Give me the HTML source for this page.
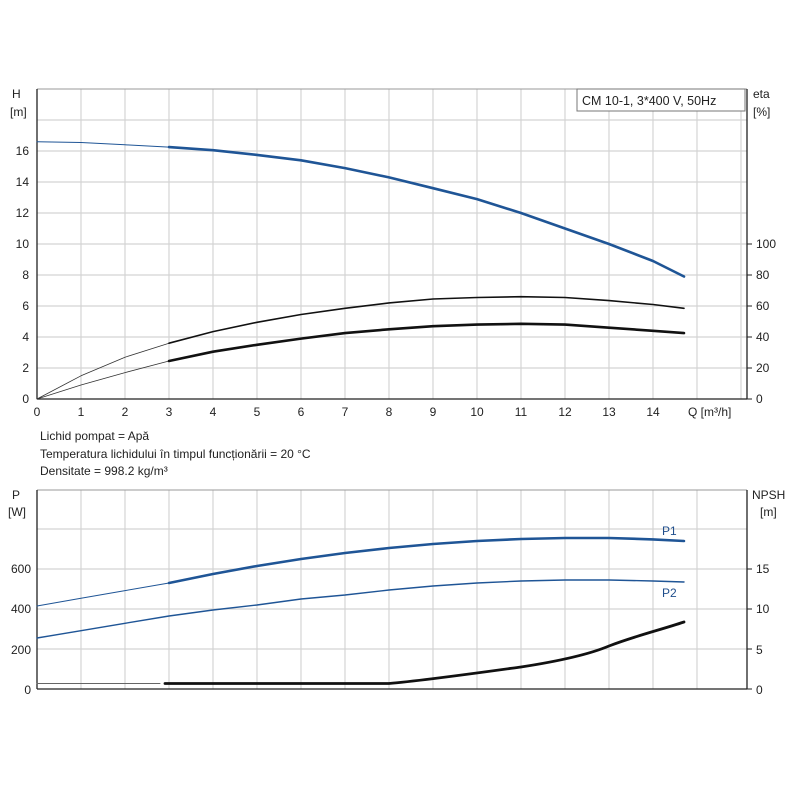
<!DOCTYPE html>
<html><head><meta charset="utf-8"><style>
html,body{margin:0;padding:0;background:#fff;}
svg{display:block;font-family:"Liberation Sans",sans-serif;}
</style></head><body>
<svg width="800" height="800" viewBox="0 0 800 800">
<g stroke="#d4d4d4" stroke-width="1.2">
<line x1="81" y1="89" x2="81" y2="399"/><line x1="125" y1="89" x2="125" y2="399"/><line x1="169" y1="89" x2="169" y2="399"/><line x1="213" y1="89" x2="213" y2="399"/><line x1="257" y1="89" x2="257" y2="399"/><line x1="301" y1="89" x2="301" y2="399"/><line x1="345" y1="89" x2="345" y2="399"/><line x1="389" y1="89" x2="389" y2="399"/><line x1="433" y1="89" x2="433" y2="399"/><line x1="477" y1="89" x2="477" y2="399"/><line x1="521" y1="89" x2="521" y2="399"/><line x1="565" y1="89" x2="565" y2="399"/><line x1="609" y1="89" x2="609" y2="399"/><line x1="653" y1="89" x2="653" y2="399"/><line x1="697" y1="89" x2="697" y2="399"/><line x1="741" y1="89" x2="741" y2="399"/>
<line x1="37" y1="120" x2="747" y2="120"/><line x1="37" y1="151" x2="747" y2="151"/><line x1="37" y1="182" x2="747" y2="182"/><line x1="37" y1="213" x2="747" y2="213"/><line x1="37" y1="244" x2="747" y2="244"/><line x1="37" y1="275" x2="747" y2="275"/><line x1="37" y1="306" x2="747" y2="306"/><line x1="37" y1="337" x2="747" y2="337"/><line x1="37" y1="368" x2="747" y2="368"/>
<line x1="81" y1="490" x2="81" y2="689"/><line x1="125" y1="490" x2="125" y2="689"/><line x1="169" y1="490" x2="169" y2="689"/><line x1="213" y1="490" x2="213" y2="689"/><line x1="257" y1="490" x2="257" y2="689"/><line x1="301" y1="490" x2="301" y2="689"/><line x1="345" y1="490" x2="345" y2="689"/><line x1="389" y1="490" x2="389" y2="689"/><line x1="433" y1="490" x2="433" y2="689"/><line x1="477" y1="490" x2="477" y2="689"/><line x1="521" y1="490" x2="521" y2="689"/><line x1="565" y1="490" x2="565" y2="689"/><line x1="609" y1="490" x2="609" y2="689"/><line x1="653" y1="490" x2="653" y2="689"/><line x1="697" y1="490" x2="697" y2="689"/>
<line x1="37" y1="529" x2="747" y2="529"/><line x1="37" y1="569" x2="747" y2="569"/><line x1="37" y1="609" x2="747" y2="609"/><line x1="37" y1="649" x2="747" y2="649"/>
</g>
<g stroke="#999" stroke-width="1" fill="none"><line x1="37" y1="89" x2="747" y2="89"/><line x1="37" y1="490" x2="747" y2="490"/></g>
<g stroke="#222" stroke-width="1.3" fill="none">
<line x1="37" y1="89" x2="37" y2="399"/><line x1="747" y1="89" x2="747" y2="399"/><line x1="37" y1="399" x2="747" y2="399"/>
<line x1="37" y1="490" x2="37" y2="689"/><line x1="747" y1="490" x2="747" y2="689"/><line x1="37" y1="689" x2="747" y2="689"/>
</g>
<g stroke="#222" stroke-width="1">
<line x1="747" y1="244" x2="752" y2="244"/><line x1="747" y1="275" x2="752" y2="275"/><line x1="747" y1="306" x2="752" y2="306"/><line x1="747" y1="337" x2="752" y2="337"/><line x1="747" y1="368" x2="752" y2="368"/><line x1="747" y1="399" x2="752" y2="399"/>
<line x1="747" y1="569" x2="752" y2="569"/><line x1="747" y1="609" x2="752" y2="609"/><line x1="747" y1="649" x2="752" y2="649"/><line x1="747" y1="689" x2="752" y2="689"/>
</g>
<rect x="577" y="89" width="168" height="22" fill="#fff" stroke="#777"/>
<text x="582" y="105" font-size="12.5" fill="#222">CM 10-1, 3*400 V, 50Hz</text>
<g font-size="12" fill="#222">
<text x="12" y="98">H</text><text x="10" y="116">[m]</text>
<text x="753" y="98">eta</text><text x="753" y="116">[%]</text>
<text x="12" y="499">P</text><text x="8" y="516">[W]</text>
<text x="752" y="499">NPSH</text><text x="760" y="516">[m]</text>
</g>
<g font-size="12" fill="#222" text-anchor="end">
<text x="29" y="155">16</text><text x="29" y="186">14</text><text x="29" y="217">12</text><text x="29" y="248">10</text><text x="29" y="279">8</text><text x="29" y="310">6</text><text x="29" y="341">4</text><text x="29" y="372">2</text><text x="29" y="403">0</text>
<text x="31" y="573">600</text><text x="31" y="613">400</text><text x="31" y="654">200</text><text x="31" y="694">0</text>
</g>
<g font-size="12" fill="#222">
<text x="756" y="248">100</text><text x="756" y="279">80</text><text x="756" y="310">60</text><text x="756" y="341">40</text><text x="756" y="372">20</text><text x="756" y="403">0</text>
<text x="756" y="573">15</text><text x="756" y="613">10</text><text x="756" y="654">5</text><text x="756" y="694">0</text>
</g>
<g font-size="12" fill="#222" text-anchor="middle">
<text x="37" y="416">0</text><text x="81" y="416">1</text><text x="125" y="416">2</text><text x="169" y="416">3</text><text x="213" y="416">4</text><text x="257" y="416">5</text><text x="301" y="416">6</text><text x="345" y="416">7</text><text x="389" y="416">8</text><text x="433" y="416">9</text><text x="477" y="416">10</text><text x="521" y="416">11</text><text x="565" y="416">12</text><text x="609" y="416">13</text><text x="653" y="416">14</text>
</g>
<text x="688" y="416" font-size="12" fill="#222">Q [m³/h]</text>
<g font-size="12" fill="#222">
<text x="40" y="440">Lichid pompat = Apă</text>
<text x="40" y="458">Temperatura lichidului în timpul funcționării = 20 °C</text>
<text x="40" y="475">Densitate = 998.2 kg/m³</text>
</g>
<g font-size="12" fill="#1f4e8c"><text x="662" y="535">P1</text><text x="662" y="597">P2</text></g>
<g fill="none" stroke-linejoin="round" stroke-linecap="round">
<polyline stroke="#1f5596" stroke-width="1" points="37,141.7 81,142.5 125,144.8 169,147.1"/>
<polyline stroke="#1f5596" stroke-width="2.6" points="169,147.1 213,150.2 257,154.9 301,160.3 345,168.1 389,177.4 433,188.2 477,199.1 521,213 565,228.5 609,244 653,261 684,276.5"/>
<polyline stroke="#333" stroke-width="0.8" points="37,399 81,375.8 125,357.2 169,343.2"/>
<polyline stroke="#111" stroke-width="1.6" points="169,343.2 213,331.6 257,322.3 301,314.5 345,308.3 389,302.9 433,299 477,297.5 521,296.7 565,297.5 609,300.6 653,304.5 684,308.3"/>
<polyline stroke="#333" stroke-width="0.8" points="37,399 81,385 125,372.6 169,361"/>
<polyline stroke="#111" stroke-width="2.6" points="169,361 213,351.7 257,344.8 301,338.6 345,333.1 389,329.3 433,326.2 477,324.6 521,323.8 565,324.6 609,327.7 653,330.8 684,333.1"/>
<polyline stroke="#1f5596" stroke-width="1" points="37,606 81,598.3 125,590.6 169,583"/>
<polyline stroke="#1f5596" stroke-width="2.6" points="169,583 213,574 257,566 301,559 345,553 389,548 433,544 477,541 521,539 565,538 609,538 653,539.4 684,541"/>
<polyline stroke="#1f5596" stroke-width="1.4" points="37,638 81,630.7 125,623.3 169,616 213,610 257,605 301,599 345,595 389,590 433,586 477,583 521,581 565,580 609,580 653,581 684,582"/>
<polyline stroke="#666" stroke-width="1" points="37,683.5 160,683.5"/>
<path stroke="#111" stroke-width="2.8" d="M165,683.5 L389,683.5 C420,681 470,674 521,667 C560,661 590,654 609,646 C635,636 660,630 684,622"/>
</g>
</svg>
</body></html>
